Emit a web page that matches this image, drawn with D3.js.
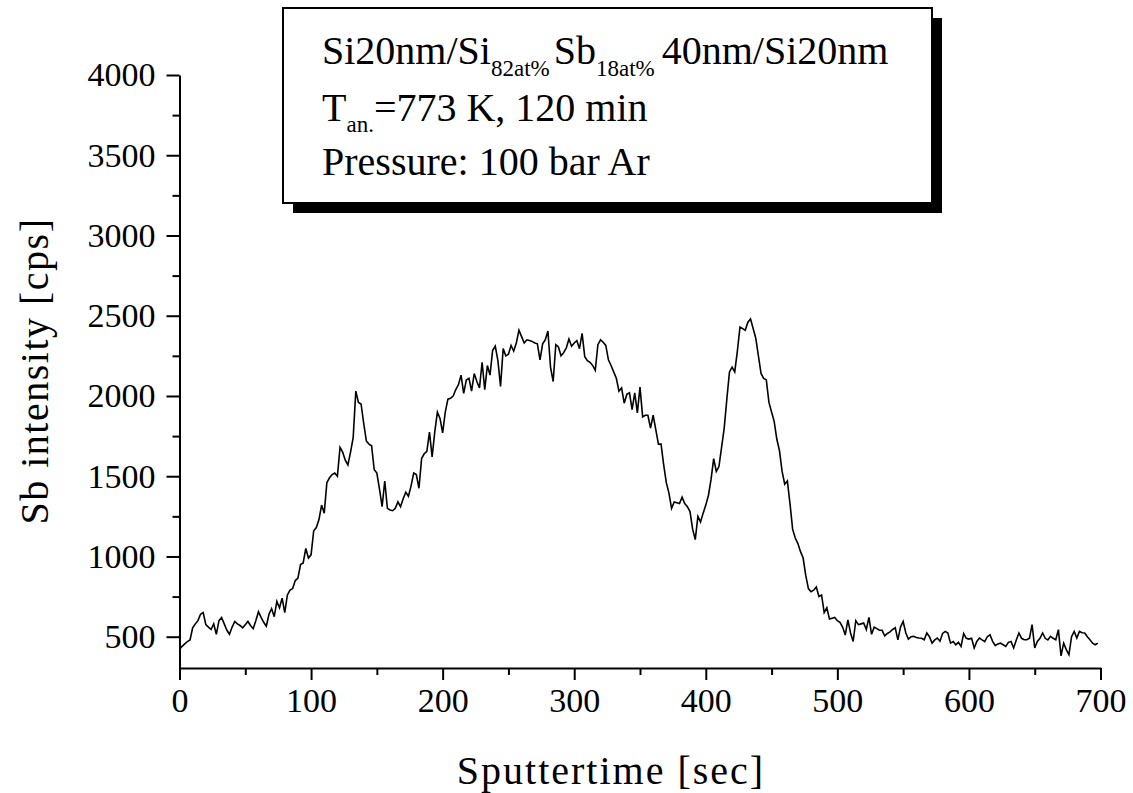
<!DOCTYPE html>
<html>
<head>
<meta charset="utf-8">
<script src="https://cdn.jsdelivr.net/npm/d3@7"></script>
<style>
  html, body { margin: 0; padding: 0; background: #fff; }
  svg { display: block; }
  svg text { font-family: "Liberation Serif", Tinos, "Times New Roman", Times, "DejaVu Serif", serif; }
</style>
</head>
<body>
<svg id="chart" width="1133" height="793"></svg>
<script>
// ---------- data ----------
const timeStart = 0;      // sec
const timeStep = 2;       // sec between samples
const sbIntensity = [
  420,440,455,470,480,555,580,600,640,650,575,560,545,580,515,600,620,580,540,515,560,595,580,570,555,
  575,595,570,550,600,655,620,590,565,640,675,625,720,680,740,650,760,790,800,850,865,950,960,1050,990,
  1010,1160,1180,1230,1320,1270,1460,1490,1510,1520,1500,1680,1650,1600,1570,1650,1740,2030,1960,1950,1830,1720,1700,1690,1540,
  1520,1420,1310,1470,1300,1290,1285,1300,1340,1310,1360,1400,1375,1440,1520,1510,1425,1610,1640,1655,1775,1620,1775,1900,1860,
  1770,1900,1980,1985,2000,2040,2070,2130,2016,2100,2110,2030,2140,2090,2050,2210,2040,2190,2130,2285,2310,2220,2060,2295,2250,
  2260,2315,2280,2330,2410,2370,2330,2350,2345,2340,2330,2325,2225,2325,2350,2405,2180,2090,2320,2305,2250,2270,2300,2355,2310,
  2330,2345,2295,2390,2245,2220,2210,2190,2160,2320,2350,2335,2315,2225,2190,2150,2110,2030,2050,1955,2010,2020,1915,2020,1895,
  2055,1870,1880,1880,1800,1880,1790,1700,1700,1570,1460,1395,1300,1340,1335,1330,1370,1330,1310,1280,1170,1105,1250,1215,1270,
  1320,1380,1480,1610,1530,1560,1680,1800,1980,2150,2180,2150,2280,2430,2420,2410,2460,2480,2420,2360,2250,2140,2110,2100,1960,
  1900,1840,1730,1660,1530,1450,1470,1330,1170,1115,1080,1030,990,880,800,780,790,810,750,760,650,680,610,615,620,
  600,590,560,510,605,525,470,600,575,580,585,545,620,515,560,550,540,540,505,520,530,545,555,480,560,
  595,525,485,500,502,495,492,490,481,523,500,460,480,492,472,520,533,523,460,470,450,465,440,520,490,
  485,490,430,470,492,480,470,500,512,471,445,455,460,450,440,465,470,430,480,523,490,481,481,490,575,
  430,470,490,523,490,480,502,490,481,544,380,460,420,388,500,533,492,533,525,523,500,481,460,450,460
];
const xMajorTicks = [0, 100, 200, 300, 400, 500, 600, 700];
const xMinorTicks = [50, 150, 250, 350, 450, 550, 650];
const yMajorTicks = [500, 1000, 1500, 2000, 2500, 3000, 3500, 4000];
const yMinorTicks = [750, 1250, 1750, 2250, 2750, 3250, 3750];
const xTitle = "Sputtertime [sec]";
const yTitle = "Sb intensity [cps]";

// ---------- drawing ----------
const svg = d3.select("#chart");

const x = d3.scaleLinear().domain([0, 700]).range([179.5, 1100.5]);
const y = d3.scaleLinear().domain([305, 4000]).range([668, 75]);

const points = sbIntensity.map((v, i) => [timeStart + i * timeStep, v]);

// X axis
const xAxis = svg.append("g").attr("transform", "translate(0,668)");
xAxis.call(d3.axisBottom(x).tickValues(xMajorTicks).tickFormat(d3.format("d"))
  .tickSize(12).tickPadding(8).tickSizeOuter(0));
xAxis.append("g").call(d3.axisBottom(x).tickValues(xMinorTicks).tickSize(7).tickFormat(""))
  .select(".domain").remove();

// Y axis
const yAxis = svg.append("g").attr("transform", "translate(179.5,0)");
yAxis.call(d3.axisLeft(y).tickValues(yMajorTicks).tickFormat(d3.format("d"))
  .tickSize(13).tickPadding(11).tickSizeOuter(0));
yAxis.append("g").call(d3.axisLeft(y).tickValues(yMinorTicks).tickSize(7).tickFormat(""))
  .select(".domain").remove();

svg.selectAll("g").attr("font-family", null);
svg.selectAll(".domain").attr("stroke", "#000").attr("stroke-width", 2);
svg.selectAll(".tick line").attr("stroke", "#000").attr("stroke-width", 2);
svg.selectAll(".tick text").attr("fill", "#000").style("font-size", "34px");

// axis titles
svg.append("text")
  .attr("x", 611).attr("y", 784)
  .attr("text-anchor", "middle")
  .style("font-size", "40px").style("letter-spacing", "2px")
  .attr("fill", "#000")
  .text(xTitle);

svg.append("text")
  .attr("transform", "translate(48,371) rotate(-90)")
  .attr("text-anchor", "middle")
  .style("font-size", "40px").style("letter-spacing", "1.5px")
  .attr("fill", "#000")
  .text(yTitle);

// data line
svg.append("path")
  .datum(points)
  .attr("fill", "none")
  .attr("stroke", "#000")
  .attr("stroke-width", 1.6)
  .attr("stroke-linejoin", "miter")
  .attr("d", d3.line().x(d => x(d[0])).y(d => y(d[1])));

// annotation box with shadow
const box = { x: 283, y: 8, w: 649, h: 195, off: 10 };
svg.append("rect")
  .attr("x", box.x + box.off).attr("y", box.y + box.off)
  .attr("width", box.w).attr("height", box.h)
  .attr("fill", "#000");
svg.append("rect")
  .attr("x", box.x).attr("y", box.y)
  .attr("width", box.w).attr("height", box.h)
  .attr("fill", "#fff").attr("stroke", "#000").attr("stroke-width", 2);

const note = svg.append("g").attr("fill", "#000");
const mainSize = "40px", subSize = "23px";

const l1 = note.append("text").attr("x", 322).attr("y", 64).style("font-size", mainSize);
l1.append("tspan").text("Si20nm/Si");
l1.append("tspan").attr("dy", 12).style("font-size", subSize).text("82at%");
l1.append("tspan").attr("dy", -12).attr("dx", 4).text("Sb");
l1.append("tspan").attr("dy", 12).style("font-size", subSize).text("18at%");
l1.append("tspan").attr("dy", -12).attr("dx", 7).text("40nm/Si20nm");

const l2 = note.append("text").attr("x", 322).attr("y", 121).style("font-size", mainSize);
l2.append("tspan").text("T");
l2.append("tspan").attr("dy", 11).style("font-size", subSize).text("an.");
l2.append("tspan").attr("dy", -11).text("=773 K, 120 min");

note.append("text").attr("x", 322).attr("y", 175).style("font-size", mainSize)
  .text("Pressure: 100 bar Ar");
</script>
</body>
</html>
